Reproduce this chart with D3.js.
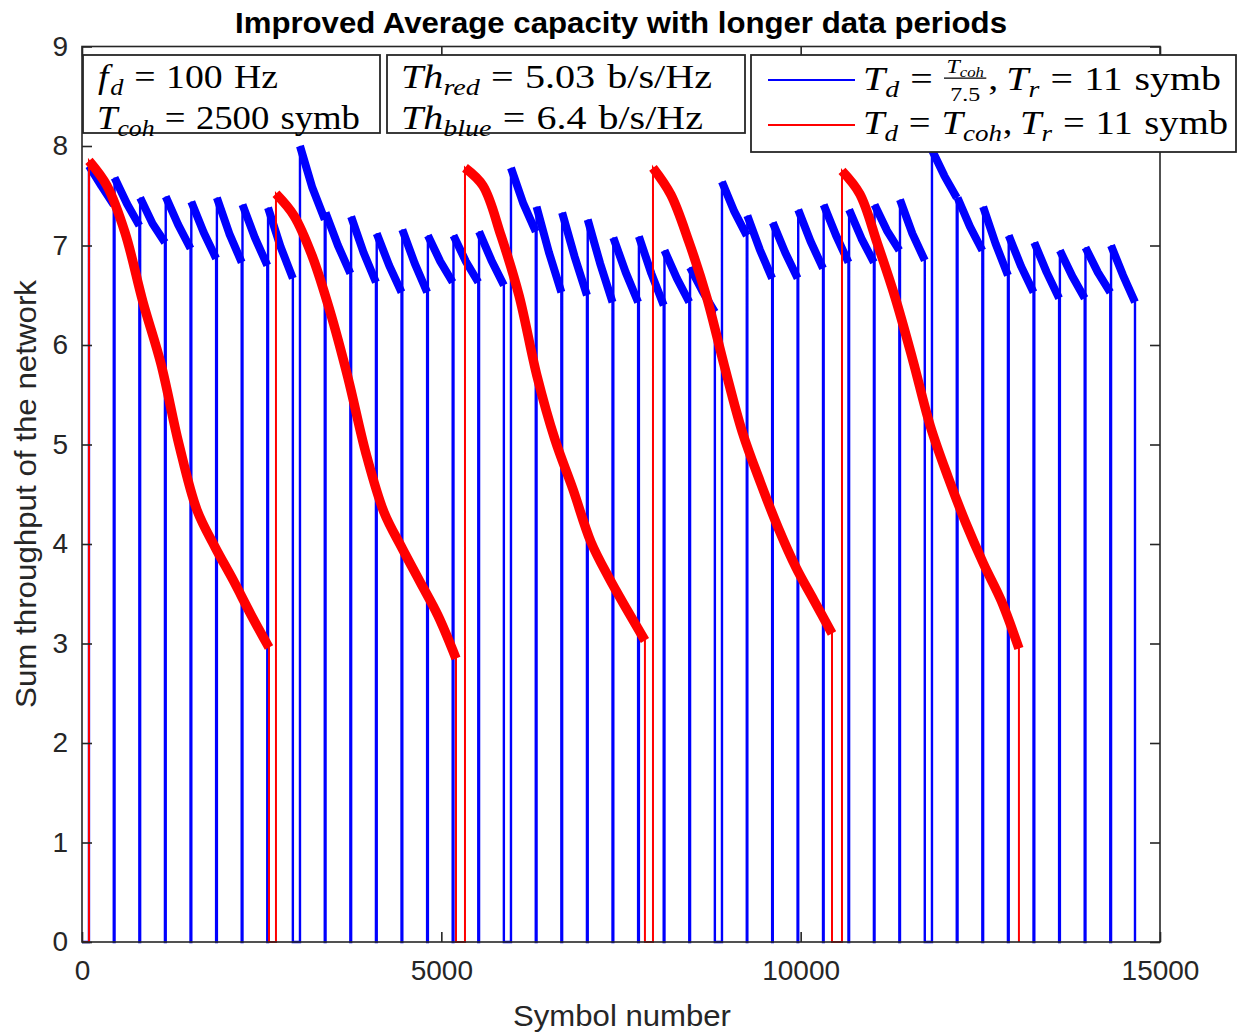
<!DOCTYPE html>
<html><head><meta charset="utf-8">
<script src="https://cdn.jsdelivr.net/npm/d3@7"></script>
<style>body{margin:0;background:#fff}svg{display:block}</style>
</head><body>
<svg id="c" width="1239" height="1033"></svg>
<script>
// ---------------- data ----------------
const titleText = "Improved Average capacity with longer data periods";
const xLabel = "Symbol number";
const yLabel = "Sum throughput of the network";
const xTicks = [0, 5000, 10000, 15000];
const yTicks = [0, 1, 2, 3, 4, 5, 6, 7, 8, 9];

// blue series: Td = Tcoh/7.5, Tr = 11 symb
const blueStart = [97, 453, 809, 1165, 1521, 1877, 2233, 2589,
  3033, 3389, 3745, 4101, 4457, 4813, 5169, 5525,
  5969, 6325, 6681, 7037, 7393, 7749, 8105, 8461,
  8905, 9258, 9612, 9966, 10320, 10674, 11028, 11382,
  11827, 12183, 12539, 12895, 13251, 13607, 13963, 14319];
const blueEnd = [442, 798, 1154, 1510, 1866, 2222, 2578, 2934,
  3378, 3734, 4090, 4446, 4802, 5158, 5514, 5870,
  6314, 6670, 7026, 7382, 7738, 8094, 8450, 8806,
  9250, 9603, 9957, 10311, 10665, 11019, 11373, 11727,
  12172, 12528, 12884, 13240, 13596, 13952, 14308, 14652];
const blueValues = [
  [7.80, 7.60, 7.41], [7.68, 7.42, 7.20], [7.48, 7.22, 7.03], [7.49, 7.21, 6.97],
  [7.44, 7.13, 6.87], [7.48, 7.12, 6.83], [7.41, 7.08, 6.80], [7.38, 6.99, 6.67],
  [8.00, 7.58, 7.26], [7.33, 7.00, 6.72], [7.29, 6.93, 6.63], [7.12, 6.80, 6.53],
  [7.16, 6.82, 6.53], [7.10, 6.84, 6.63], [7.10, 6.84, 6.63], [7.14, 6.85, 6.60],
  [7.78, 7.42, 7.14], [7.39, 6.93, 6.53], [7.33, 6.89, 6.50], [7.26, 6.82, 6.43],
  [7.08, 6.73, 6.43], [7.09, 6.72, 6.40], [6.95, 6.67, 6.43], [6.78, 6.54, 6.33],
  [7.64, 7.34, 7.10], [7.30, 6.96, 6.67], [7.23, 6.93, 6.67], [7.36, 7.04, 6.77],
  [7.41, 7.10, 6.83], [7.36, 7.07, 6.83], [7.41, 7.15, 6.95], [7.46, 7.12, 6.85],
  [7.96, 7.70, 7.48], [7.48, 7.19, 6.95], [7.39, 7.02, 6.70], [7.10, 6.79, 6.53],
  [7.03, 6.73, 6.47], [6.95, 6.69, 6.47], [6.98, 6.73, 6.53], [7.00, 6.70, 6.43]];

// red series: Td = Tcoh, Tr = 11 symb (values sampled every 10% of each period)
const redStart = [97, 2699, 5329, 7945, 10575];
const redEnd = [2602, 5204, 7833, 10436, 13037];
const redValues = [
  [7.85, 7.60, 7.13, 6.43, 5.81, 5.00, 4.34, 3.97, 3.64, 3.29, 2.96],
  [7.52, 7.30, 6.90, 6.34, 5.67, 4.91, 4.32, 3.96, 3.62, 3.28, 2.85],
  [7.78, 7.60, 7.10, 6.50, 5.69, 5.05, 4.55, 4.02, 3.66, 3.34, 3.03],
  [7.78, 7.51, 7.04, 6.48, 5.78, 5.12, 4.62, 4.16, 3.76, 3.43, 3.10],
  [7.75, 7.52, 7.02, 6.48, 5.85, 5.18, 4.67, 4.21, 3.80, 3.43, 2.95]];

// ---------------- chart ----------------
const svg = d3.select('#c');
const W = 1239, H = 1033;
svg.append('rect').attr('width', W).attr('height', H).attr('fill', '#fff');

const x = d3.scaleLinear().domain([0, 15000]).range([82, 1160]);
const y = d3.scaleLinear().domain([0, 9]).range([942, 46.5]);
const axisColor = '#262626';
const sans = "'Liberation Sans', Arial, Helvetica, sans-serif";
const serif = "'Liberation Serif', 'Times New Roman', serif";

function buildPoints(starts, ends, vals) {
  const pts = [[0, 0]];
  starts.forEach((s, i) => {
    const e = ends[i], v = vals[i], n = v.length;
    pts.push([s, 0]);
    v.forEach((val, j) => pts.push([s + (e - s) * j / (n - 1), val]));
    pts.push([e, 0]);
  });
  return pts;
}
function segPoints(s, e, v) {
  const n = v.length;
  return v.map((val, j) => [s + (e - s) * j / (n - 1), val]);
}

const lineLin = d3.line().x(d => x(d[0])).y(d => y(d[1]));
const lineSmooth = d3.line().x(d => x(d[0])).y(d => y(d[1])).curve(d3.curveCatmullRom.alpha(0.5));

const plot = svg.append('g');

function drawSeries(starts, ends, vals, color, thin, thick, gen) {
  plot.append('path')
    .attr('d', lineLin(buildPoints(starts, ends, vals)))
    .attr('fill', 'none').attr('stroke', color).attr('stroke-width', thin)
    .attr('stroke-linejoin', 'miter');
  starts.forEach((s, i) => {
    plot.append('path')
      .attr('d', gen(segPoints(s, ends[i], vals[i])))
      .attr('fill', 'none').attr('stroke', color).attr('stroke-width', thick)
      .attr('stroke-linejoin', 'round').attr('stroke-linecap', 'butt');
  });
}
drawSeries(blueStart, blueEnd, blueValues, '#0000ff', 2.4, 8, lineLin);
drawSeries(redStart, redEnd, redValues, '#ff0000', 2, 9.5, lineSmooth);

// axes box
const ax = svg.append('g');
ax.append('rect').attr('x', x(0)).attr('y', y(9)).attr('width', x(15000) - x(0))
  .attr('height', y(0) - y(9)).attr('fill', 'none').attr('stroke', axisColor).attr('stroke-width', 1.6);

const tickLen = 10;
const yAxisL = d3.axisLeft(y).tickValues(yTicks).tickSize(-tickLen).tickPadding(14).tickFormat(d3.format('d'));
const yAxisR = d3.axisRight(y).tickValues(yTicks).tickSize(-tickLen).tickFormat('');
const xAxisB = d3.axisBottom(x).tickValues(xTicks).tickSize(-tickLen).tickPadding(18).tickFormat(d3.format('d'));
const xAxisT = d3.axisTop(x).tickValues(xTicks).tickSize(-tickLen).tickFormat('');

function styleAxis(g) {
  g.select('.domain').remove();
  g.selectAll('.tick line').attr('stroke', axisColor).attr('stroke-width', 1.6);
  g.selectAll('.tick text').attr('fill', axisColor).attr('font-family', sans).attr('font-size', 28);
}
ax.append('g').attr('transform', `translate(${x(0)},0)`).call(yAxisL).call(styleAxis);
ax.append('g').attr('transform', `translate(${x(15000)},0)`).call(yAxisR).call(styleAxis);
ax.append('g').attr('transform', `translate(0,${y(0)})`).call(xAxisB).call(styleAxis);
ax.append('g').attr('transform', `translate(0,${y(9)})`).call(xAxisT).call(styleAxis);

// labels
svg.append('text').attr('x', 621).attr('y', 33).attr('text-anchor', 'middle')
  .attr('font-family', sans).attr('font-weight', 'bold').attr('font-size', 29)
  .attr('textLength', 772).attr('lengthAdjust', 'spacingAndGlyphs')
  .attr('fill', '#000').text(titleText);
svg.append('text').attr('x', 622).attr('y', 1026).attr('text-anchor', 'middle')
  .attr('font-family', sans).attr('font-size', 29).attr('fill', axisColor)
  .attr('textLength', 218).attr('lengthAdjust', 'spacingAndGlyphs').text(xLabel);
svg.append('text').attr('transform', 'translate(36,494) rotate(-90)').attr('text-anchor', 'middle')
  .attr('font-family', sans).attr('font-size', 29).attr('fill', axisColor)
  .attr('textLength', 428).attr('lengthAdjust', 'spacingAndGlyphs').text(yLabel);

// ---------------- annotation boxes ----------------
const ann = svg.append('g');
function box(bx, by, bw, bh) {
  ann.append('rect').attr('x', bx).attr('y', by).attr('width', bw).attr('height', bh)
    .attr('fill', '#fff').attr('stroke', axisColor).attr('stroke-width', 1.8);
}
function mathText(x0, yb, pieces, target, size) {
  const grp = ann.append('g').attr('font-family', serif).attr('fill', '#000');
  let cx = x0;
  const place = (t, px, py, fs, it) => {
    const el = grp.append('text').attr('x', px).attr('y', py).attr('font-size', fs)
      .attr('font-style', it ? 'italic' : 'normal').text(t);
    return el;
  };
  pieces.forEach(p => {
    cx += (p.gap || 0) * size;
    if (p.frac) {
      const fs = size * 0.6;
      const nb = yb - size * 0.52;
      const tEl = place('T', 0, nb, fs, true);
      const w1 = tEl.node().getComputedTextLength();
      const cEl = place('coh', 0, nb + fs * 0.2, fs * 0.7, true);
      const w2 = cEl.node().getComputedTextLength();
      const dEl = place('7.5', 0, yb + size * 0.33, fs, false);
      const dW = dEl.node().getComputedTextLength();
      const numW = w1 + w2;
      const fw = Math.max(numW, dW) + 4;
      tEl.attr('x', cx + (fw - numW) / 2);
      cEl.attr('x', cx + (fw - numW) / 2 + w1);
      dEl.attr('x', cx + (fw - dW) / 2);
      grp.append('line').attr('x1', cx).attr('x2', cx + fw)
        .attr('y1', yb - size * 0.36).attr('y2', yb - size * 0.36)
        .attr('stroke', '#000').attr('stroke-width', 1.2);
      cx += fw;
    } else {
      const fs = p.sub ? size * 0.7 : size;
      const dy = p.sub ? size * 0.22 : 0;
      cx += place(p.t, cx, yb + dy, fs, p.it).node().getComputedTextLength();
    }
  });
  const w = cx - x0;
  grp.attr('transform', `translate(${x0},0) scale(${target / w},1) translate(${-x0},0)`);
}

const S = 33;
box(83, 55, 297, 78);
mathText(98, 88, [{ t: 'f', it: true }, { t: 'd', it: true, sub: true, gap: 0.05 },
  { t: '=', gap: 0.28 }, { t: '100', gap: 0.28 }, { t: 'Hz', gap: 0.3 }], 180, S);
mathText(97, 129, [{ t: 'T', it: true }, { t: 'coh', it: true, sub: true },
  { t: '=', gap: 0.28 }, { t: '2500', gap: 0.28 }, { t: 'symb', gap: 0.3 }], 263, S);

box(387, 55, 358, 78);
mathText(401, 88, [{ t: 'Th', it: true }, { t: 'red', it: true, sub: true },
  { t: '=', gap: 0.28 }, { t: '5.03', gap: 0.28 }, { t: 'b/s/Hz', gap: 0.3 }], 311, S);
mathText(401, 129, [{ t: 'Th', it: true }, { t: 'blue', it: true, sub: true },
  { t: '=', gap: 0.28 }, { t: '6.4', gap: 0.28 }, { t: 'b/s/Hz', gap: 0.3 }], 302, S);

box(751, 55, 485, 97);
ann.append('line').attr('x1', 768).attr('x2', 855).attr('y1', 80).attr('y2', 80)
  .attr('stroke', '#0000ff').attr('stroke-width', 2.2);
ann.append('line').attr('x1', 768).attr('x2', 855).attr('y1', 125).attr('y2', 125)
  .attr('stroke', '#ff0000').attr('stroke-width', 2.2);
mathText(863, 90, [{ t: 'T', it: true }, { t: 'd', it: true, sub: true },
  { t: '=', gap: 0.28 }, { frac: true, gap: 0.28 }, { t: ',', gap: 0.05 },
  { t: 'T', it: true, gap: 0.2 }, { t: 'r', it: true, sub: true },
  { t: '=', gap: 0.28 }, { t: '11', gap: 0.28 }, { t: 'symb', gap: 0.3 }], 358, S);
mathText(863, 134, [{ t: 'T', it: true }, { t: 'd', it: true, sub: true },
  { t: '=', gap: 0.28 }, { t: 'T', it: true, gap: 0.28 }, { t: 'coh', it: true, sub: true },
  { t: ',', gap: 0.02 },
  { t: 'T', it: true, gap: 0.2 }, { t: 'r', it: true, sub: true },
  { t: '=', gap: 0.28 }, { t: '11', gap: 0.28 }, { t: 'symb', gap: 0.3 }], 365, S);
</script>
</body></html>
